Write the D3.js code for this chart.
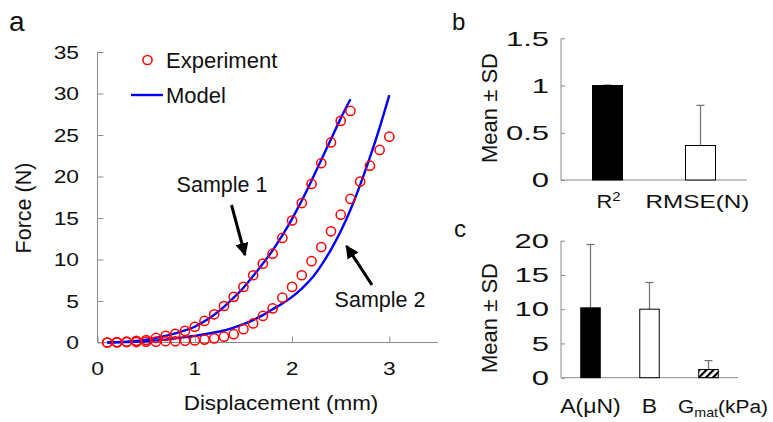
<!DOCTYPE html>
<html>
<head>
<meta charset="utf-8">
<script src="https://cdn.jsdelivr.net/npm/d3@7/dist/d3.min.js"></script>
<style>
  html, body { margin: 0; padding: 0; background: #fff; }
  svg { display: block; font-family: Arial, "Liberation Sans", sans-serif; }
</style>
</head>
<body>
<svg id="chart" width="773" height="422"></svg>
<script>
// ---- data ----
const dispExp1 = [0.1,0.2,0.3,0.4,0.5,0.6,0.7,0.8,0.9,1.0,1.1,1.2,1.3,1.4,1.5,1.6,1.7,1.8,1.9,2.0,2.1,2.2,2.3,2.4,2.5,2.6];
const forceExp1 = [0,0.05,0.1,0.2,0.3,0.55,0.8,1.05,1.4,1.9,2.6,3.4,4.4,5.5,6.7,8.1,9.5,10.7,12.6,14.7,16.8,19.1,21.6,24.1,26.7,27.9];
const dispExp2 = [0.1,0.2,0.3,0.4,0.5,0.6,0.7,0.8,0.9,1.0,1.1,1.2,1.3,1.4,1.5,1.6,1.7,1.8,1.9,2.0,2.1,2.2,2.3,2.4,2.5,2.6,2.7,2.8,2.9,3.0];
const forceExp2 = [0,0,0.05,0.05,0.1,0.1,0.15,0.15,0.2,0.25,0.35,0.5,0.7,1.0,1.6,2.3,3.2,4.1,5.4,6.7,8.1,9.8,11.5,13.4,15.4,17.3,19.4,21.3,23.2,24.8];

const dispModel1 = [0.1,0.2,0.3,0.4,0.5,0.6,0.7,0.8,0.9,1.0,1.1,1.2,1.3,1.4,1.5,1.6,1.7,1.8,1.9,2.0,2.1,2.2,2.3,2.4,2.5,2.6];
const forceModel1 = [0,0.05,0.1,0.2,0.35,0.55,0.8,1.1,1.45,1.9,2.55,3.35,4.3,5.4,6.6,8.0,9.5,11.1,12.9,14.9,17.1,19.5,22.0,24.5,27.0,29.3];
const dispModel2 = [0.1,0.2,0.3,0.4,0.5,0.6,0.7,0.8,0.9,1.0,1.1,1.2,1.3,1.4,1.5,1.6,1.7,1.8,1.9,2.0,2.1,2.2,2.3,2.4,2.5,2.6,2.7,2.8,2.9,3.0];
const forceModel2 = [0,0.02,0.05,0.1,0.15,0.25,0.35,0.5,0.65,0.8,1.0,1.2,1.45,1.8,2.2,2.7,3.3,4.0,4.7,5.5,6.5,7.7,9.3,11.2,13.4,16.0,19.0,22.3,25.9,29.8];

const xTicksA = [0, 1, 2, 3];
const yTicksA = [0, 5, 10, 15, 20, 25, 30, 35];

const fitCats = ['R2', 'RMSE'];
const fitMeans = [1.0, 0.365];
const fitSD = [0.005, 0.425];
const yTicksB = [0, 0.5, 1, 1.5];

const paramCats = ['A', 'B', 'Gmat'];
const paramMeans = [10.2, 10.0, 1.2];
const paramSD = [9.25, 3.9, 1.3];
const yTicksC = [0, 5, 10, 15, 20];

const svg = d3.select('#chart');
const AXIS = '#8a8a8a';
const ERR = '#707070';
const INK = '#111';

// text helper — the source figure's lettering is stretched sideways, so
// each label gets its own horizontal scale
function txt(x, y, str, fs, sx = 1, anchor = 'start', parent = svg) {
  return parent.append('text').attr('transform', `translate(${x},${y}) scale(${sx},1)`)
    .attr('text-anchor', anchor).attr('font-size', fs).attr('fill', INK).text(str);
}
function vtxt(x, y, str, fs) {
  return svg.append('text').attr('transform', `translate(${x},${y}) rotate(-90)`)
    .attr('text-anchor', 'middle').attr('font-size', fs).attr('fill', INK).text(str);
}

const defs = svg.append('defs');
defs.append('pattern').attr('id', 'hatch').attr('patternUnits', 'userSpaceOnUse')
  .attr('width', 5).attr('height', 5).attr('patternTransform', 'rotate(45)')
  .append('rect').attr('x', 0).attr('y', 0).attr('width', 2.2).attr('height', 5).attr('fill', '#000');
defs.append('marker').attr('id', 'ah').attr('viewBox', '0 0 10 10').attr('refX', 9).attr('refY', 5)
  .attr('markerWidth', 4.4).attr('markerHeight', 4.4).attr('orient', 'auto')
  .append('path').attr('d', 'M0,0L10,5L0,10z').attr('fill', '#000');

// inner-tick y axis, labels drawn separately so they can be stretched
function drawYAxis(y, x0, ticks, fs, sx, labRight, tickLen) {
  const g = svg.append('g').attr('transform', `translate(${x0},0)`)
    .call(d3.axisRight(y).tickValues(ticks).tickSize(tickLen).tickFormat(''));
  g.select('.domain').attr('stroke', AXIS).attr('d', `M0,${y.range()[0]}V${y.range()[1]}`);
  g.selectAll('.tick line').attr('stroke', AXIS);
  ticks.forEach(t => txt(labRight, y(t), t, fs, sx, 'end').attr('dy', '0.36em'));
}

// ===================== panel a =====================
const xA = d3.scaleLinear().domain([0, 3.5]).range([97.5, 438]);
const yA = d3.scaleLinear().domain([0, 35]).range([342.5, 52]);

txt(9, 31, 'a', 28);
drawYAxis(yA, xA(0), yTicksA, 19, 1.2, 79, 6);

const gx = svg.append('g').attr('transform', `translate(0,${yA(0)})`)
  .call(d3.axisTop(xA).tickValues(xTicksA).tickSize(6).tickFormat(''));
gx.select('.domain').attr('stroke', AXIS).attr('d', `M${xA.range()[0]},0H${xA.range()[1]}`);
gx.selectAll('.tick line').attr('stroke', AXIS);
xTicksA.forEach(t => txt(xA(t), 375, t, 19, 1.2, 'middle'));

txt(281, 410, 'Displacement (mm)', 21, 1.07, 'middle');
vtxt(31, 208, 'Force (N)', 21.5);

const line = d3.line().x(d => xA(d[0])).y(d => yA(d[1])).curve(d3.curveMonotoneX);
[[dispModel1, forceModel1], [dispModel2, forceModel2]].forEach(([xs, ys]) => {
  svg.append('path').attr('d', line(d3.zip(xs, ys)))
    .attr('fill', 'none').attr('stroke', '#0000ff').attr('stroke-width', 2.4);
});
[[dispExp1, forceExp1], [dispExp2, forceExp2]].forEach(([xs, ys]) => {
  svg.append('g').selectAll('circle').data(d3.zip(xs, ys)).join('circle')
    .attr('cx', d => xA(d[0])).attr('cy', d => yA(d[1])).attr('r', 4.6)
    .attr('fill', 'none').attr('stroke', '#ff0000').attr('stroke-width', 1.5);
});

// legend
svg.append('circle').attr('cx', 147.5).attr('cy', 60).attr('r', 4.6)
  .attr('fill', 'none').attr('stroke', '#ff0000').attr('stroke-width', 1.5);
txt(166, 67.5, 'Experiment', 22);
svg.append('line').attr('x1', 131).attr('x2', 163).attr('y1', 95).attr('y2', 95)
  .attr('stroke', '#0000ff').attr('stroke-width', 2.4);
txt(166, 102.5, 'Model', 22);

// sample annotations
txt(222, 192, 'Sample 1', 21.5, 1, 'middle');
svg.append('line').attr('x1', 231.5).attr('y1', 205).attr('x2', 245).attr('y2', 255)
  .attr('stroke', '#000').attr('stroke-width', 3).attr('marker-end', 'url(#ah)');
txt(380, 307, 'Sample 2', 21.5, 1, 'middle');
svg.append('line').attr('x1', 372).attr('y1', 285).attr('x2', 346.5).attr('y2', 246)
  .attr('stroke', '#000').attr('stroke-width', 3).attr('marker-end', 'url(#ah)');

// bar panels
function barPanel(cats, means, sds, ticks, yDomain, yRange, xRange, barW, fills) {
  const x = d3.scalePoint().domain(cats).range(xRange).padding(0.5);
  const y = d3.scaleLinear().domain(yDomain).range(yRange);
  drawYAxis(y, xRange[0], ticks, 20, 1.55, xRange[0] - 12, 4);
  svg.append('line').attr('x1', xRange[0]).attr('x2', xRange[1])
    .attr('y1', y(0)).attr('y2', y(0)).attr('stroke', AXIS);
  const g = svg.append('g');
  cats.forEach((c, i) => {
    const cx = x(c), top = y(means[i]), et = y(means[i] + sds[i]);
    g.append('line').attr('x1', cx).attr('x2', cx).attr('y1', top).attr('y2', et)
      .attr('stroke', ERR).attr('stroke-width', 1.2);
    g.append('line').attr('x1', cx - 4).attr('x2', cx + 4).attr('y1', et).attr('y2', et)
      .attr('stroke', ERR).attr('stroke-width', 1.2);
    g.append('rect').attr('x', cx - barW / 2).attr('y', top).attr('width', barW)
      .attr('height', y(0) - top).attr('fill', fills[i]).attr('stroke', '#000').attr('stroke-width', 1);
  });
  return { x, y };
}

// ===================== panel b =====================
txt(452, 30, 'b', 24);
const pb = barPanel(fitCats, fitMeans, fitSD, yTicksB, [0, 1.5], [180, 38.3], [561, 747], 30, ['#000', '#fff']);
vtxt(497, 108, 'Mean ± SD', 22);
const r2 = txt(pb.x('R2') - 11, 208, 'R', 19, 1.15);
r2.append('tspan').attr('dy', -7).attr('font-size', 13).text('2');
txt(pb.x('RMSE') - 55, 208, 'RMSE(N)', 18, 1.35);

// ===================== panel c =====================
txt(454, 237, 'c', 24);
const pc = barPanel(paramCats, paramMeans, paramSD, yTicksC, [0, 20], [377.7, 240.7], [561, 738], 19.5, ['#000', '#fff', 'url(#hatch)']);
vtxt(497, 318, 'Mean ± SD', 22);
txt(pc.x('A'), 413, 'A(μN)', 20, 1.15, 'middle');
txt(pc.x('B'), 413, 'B', 20, 1.15, 'middle');
const gm = txt(678, 413, 'G', 19, 1.1);
gm.append('tspan').attr('dy', 4).attr('font-size', 13).text('mat');
gm.append('tspan').attr('dy', -4).text('(kPa)');
</script>
</body>
</html>
